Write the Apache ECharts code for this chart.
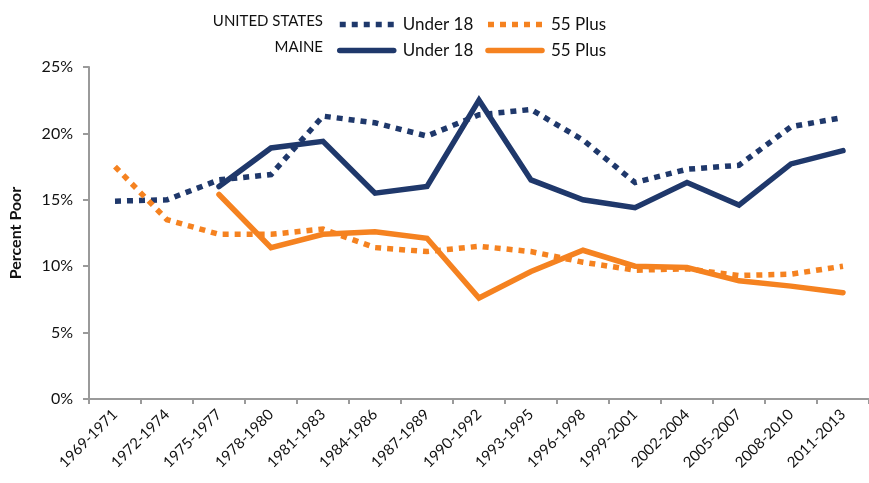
<!DOCTYPE html>
<html>
<head>
<meta charset="utf-8">
<script src="https://cdn.jsdelivr.net/npm/echarts@6/dist/echarts.min.js"></script>
<style>
  html, body { margin: 0; padding: 0; background: #fff; }
  #chart { width: 869px; height: 483px; }
</style>
</head>
<body>
<div id="chart"></div>
<script>
// periods on the x axis
var categories = ["1969-1971", "1972-1974", "1975-1977", "1978-1980", "1981-1983",
    "1984-1986", "1987-1989", "1990-1992", "1993-1995", "1996-1998",
    "1999-2001", "2002-2004", "2005-2007", "2008-2010", "2011-2013"];

// percent poor
var usUnder18 = [14.9, 15.0, 16.5, 16.9, 21.3, 20.8, 19.8, 21.4, 21.8, 19.5, 16.3, 17.3, 17.6, 20.5, 21.2];
var us55Plus = [17.5, 13.5, 12.4, 12.4, 12.8, 11.4, 11.1, 11.5, 11.1, 10.3, 9.7, 9.8, 9.3, 9.4, 10.0];
var meUnder18 = [null, null, 16.0, 18.9, 19.4, 15.5, 16.0, 22.5, 16.5, 15.0, 14.4, 16.3, 14.6, 17.7, 18.7];
var me55Plus = [null, null, 15.4, 11.4, 12.4, 12.6, 12.1, 7.6, 9.6, 11.2, 10.0, 9.9, 8.9, 8.5, 8.0];

var yTicks = [0, 5, 10, 15, 20, 25];

var navy = "#1f386b";
var orange = "#f58220";
var font = "Lato, 'Open Sans', sans-serif";

var chart = echarts.init(document.getElementById("chart"));

function lineSeries(name, data, color, dotted) {
    return {
        name: name,
        type: "line",
        data: data,
        symbol: "none",
        connectNulls: false,
        animation: false,
        lineStyle: {
            color: color,
            width: 5.5,
            type: dotted ? [6, 6] : "solid",
            cap: dotted ? "butt" : "round",
            join: "miter"
        },
        itemStyle: { color: color }
    };
}

function legendRow(names, top, prefix) {
    return {
        data: names,
        left: 337,
        top: top,
        padding: 0,
        itemWidth: 54,
        itemHeight: 10,
        itemGap: 12,
        itemStyle: { opacity: 0 },
        lineStyle: { width: 5.5 },
        formatter: function (n) { return n.replace(prefix, ""); },
        textStyle: { fontSize: 17, color: "#111", fontFamily: font, padding: [0, 0, 0, 4] }
    };
}

var option = {
    backgroundColor: "#fff",
    textStyle: { fontFamily: font },
    grid: {
        left: 89,
        top: 67,
        width: 786,
        height: 332
    },
    legend: [
        legendRow(["US Under 18", "US 55 Plus"], 16, "US "),
        legendRow(["ME Under 18", "ME 55 Plus"], 42, "ME ")
    ],
    graphic: [
        {
            type: "text",
            right: 869 - 323,
            top: 14,
            style: { text: "UNITED STATES", fontSize: 15, fill: "#111", fontFamily: font }
        },
        {
            type: "text",
            right: 869 - 323,
            top: 40,
            style: { text: "MAINE", fontSize: 15, fill: "#111", fontFamily: font }
        }
    ],
    xAxis: {
        type: "category",
        data: categories,
        boundaryGap: true,
        axisLine: { lineStyle: { color: "#9a9a9a", width: 2 } },
        axisTick: { show: true, length: 5, lineStyle: { color: "#9a9a9a", width: 2 } },
        axisLabel: {
            rotate: 45,
            interval: 0,
            fontSize: 15,
            color: "#111",
            margin: 13,
            fontFamily: font
        }
    },
    yAxis: {
        type: "value",
        min: yTicks[0],
        max: yTicks[yTicks.length - 1],
        interval: yTicks[1] - yTicks[0],
        name: "Percent Poor",
        nameLocation: "middle",
        nameGap: 65,
        nameTextStyle: { fontSize: 16, fontWeight: "bold", color: "#111", fontFamily: font },
        axisLine: { show: true, lineStyle: { color: "#9a9a9a", width: 2 } },
        axisTick: { show: true, length: 6, lineStyle: { color: "#9a9a9a", width: 2 } },
        splitLine: { show: false },
        axisLabel: {
            formatter: "{value}%",
            fontSize: 16,
            color: "#111",
            margin: 16,
            fontFamily: font
        }
    },
    series: [
        lineSeries("US Under 18", usUnder18, navy, true),
        lineSeries("US 55 Plus", us55Plus, orange, true),
        lineSeries("ME Under 18", meUnder18, navy, false),
        lineSeries("ME 55 Plus", me55Plus, orange, false)
    ]
};

chart.setOption(option);
</script>
</body>
</html>
